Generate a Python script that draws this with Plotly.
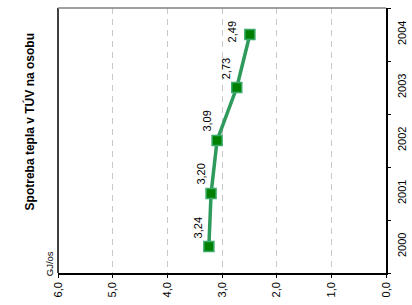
import plotly.graph_objects as go

years = ["2000", "2001", "2002", "2003", "2004"]
values = [3.24, 3.20, 3.09, 2.73, 2.49]
value_labels = ["3,24", "3,20", "3,09", "2,73", "2,49"]
x_tickvals = [0, 1, 2, 3, 4, 5, 6]
x_ticktext = ["0,0", "1,0", "2,0", "3,0", "4,0", "5,0", "6,0"]
title_text = "Spotreba tepla v TÚV na osobu"
unit_text = "GJ/os"

FONT = "Liberation Sans, Arial, sans-serif"

fig = go.Figure()
fig.add_trace(go.Scatter(
    x=values, y=years, mode="lines+markers",
    line=dict(color="#2e9a5c", width=3.5),
    marker=dict(symbol="square", size=10, color="#008000",
                line=dict(color="#3aaa6a", width=1.5)),
    showlegend=False, hoverinfo="skip",
))

for i, (v, t) in enumerate(zip(values, value_labels)):
    top = i == len(values) - 1
    fig.add_annotation(x=v, y=i, text=t, showarrow=False, textangle=-90,
                       xanchor="center", yanchor="middle",
                       xshift=-18 if top else -11, yshift=3 if top else 19,
                       font=dict(family=FONT, size=11, color="black"))

fig.add_annotation(xref="paper", yref="paper", x=-0.084, y=0.57,
                   xanchor="center", yanchor="middle",
                   text="<b>" + title_text + "</b>", showarrow=False,
                   textangle=-90, font=dict(family=FONT, size=12, color="black"))
fig.add_annotation(xref="paper", yref="paper", x=-0.026, y=0.035,
                   xanchor="center", yanchor="middle",
                   text=unit_text, showarrow=False, textangle=-90,
                   font=dict(family=FONT, size=9.5, color="black"))

# left (black) and top (gray) borders
fig.add_shape(type="line", xref="paper", yref="paper", x0=0, x1=0, y0=0, y1=1,
              line=dict(color="black", width=1.5))
fig.add_shape(type="line", xref="paper", yref="paper", x0=0, x1=1, y0=1, y1=1,
              line=dict(color="#808080", width=1.5))

fig.update_layout(
    width=412, height=305, autosize=False,
    margin=dict(l=58, r=26, t=8, b=32),
    paper_bgcolor="white", plot_bgcolor="white",
    font=dict(family=FONT, size=11, color="black"),
    xaxis=dict(range=[6, 0], tickvals=x_tickvals, ticktext=x_ticktext,
               tickangle=-90, showline=True, linecolor="black", linewidth=1.5,
               ticks="outside", ticklen=3, tickcolor="black",
               showgrid=True, gridcolor="#c8c8c8", griddash="6px,5px", gridwidth=1,
               zeroline=False, fixedrange=True, automargin=False),
    yaxis=dict(type="category", categoryorder="array", categoryarray=years,
               range=[-0.5, 4.5], side="right", tickangle=-90,
               showline=True, linecolor="black", linewidth=1.5,
               ticks="outside", ticklen=3, tickcolor="black",
               ticklabelstandoff=5,
               tickson="boundaries", showgrid=False, zeroline=False,
               fixedrange=True, automargin=False),
)

fig.write_html("out.html", config={"displayModeBar": False},
               post_script="document.body.style.margin='0';")
